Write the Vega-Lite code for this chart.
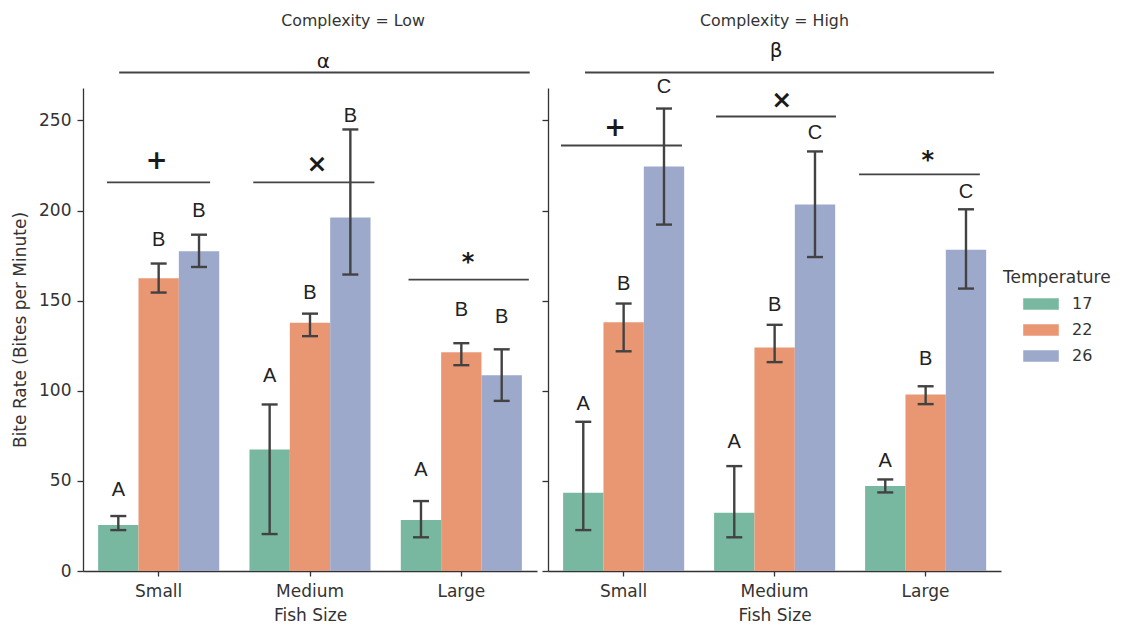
{
  "$schema": "https://vega.github.io/schema/vega-lite/v6.json",
  "background": "white",
  "padding": {"left": 11, "top": 12, "right": 5, "bottom": 5},
  "spacing": 4,
  "config": {
    "view": {"stroke": null},
    "font": "DejaVu Sans",
    "axis": {
      "domainColor": "#333333", "domainWidth": 1.3, "tickColor": "#333333", "tickWidth": 1.3,
      "labelColor": "#333333", "titleColor": "#333333", "labelFont": "DejaVu Sans", "titleFont": "DejaVu Sans",
      "labelFontSize": 17, "titleFontSize": 17, "titleFontWeight": "normal", "grid": false
    },
    "legend": {
      "titleFont": "DejaVu Sans", "labelFont": "DejaVu Sans", "titleFontSize": 17, "labelFontSize": 16,
      "titleFontWeight": "normal", "titleColor": "#333333", "labelColor": "#333333"
    }
  },
  "datasets": {
    "bars": [
      {"Complexity": "Low", "Size": "Small", "Temperature": "17", "mean": 25.5, "lo": 22.7, "hi": 30.5, "letter": "A", "ly": 44.9},
      {"Complexity": "Low", "Size": "Small", "Temperature": "22", "mean": 162.4, "lo": 154.5, "hi": 170.6, "letter": "B", "ly": 183.5},
      {"Complexity": "Low", "Size": "Small", "Temperature": "26", "mean": 177.4, "lo": 168.7, "hi": 186.6, "letter": "B", "ly": 199.6},
      {"Complexity": "Low", "Size": "Medium", "Temperature": "17", "mean": 67.4, "lo": 20.5, "hi": 92.4, "letter": "A", "ly": 108.1},
      {"Complexity": "Low", "Size": "Medium", "Temperature": "22", "mean": 137.8, "lo": 130.3, "hi": 142.8, "letter": "B", "ly": 154.1},
      {"Complexity": "Low", "Size": "Medium", "Temperature": "26", "mean": 196.1, "lo": 164.5, "hi": 245.0, "letter": "B", "ly": 252.2},
      {"Complexity": "Low", "Size": "Large", "Temperature": "17", "mean": 28.3, "lo": 18.7, "hi": 38.8, "letter": "A", "ly": 56.0},
      {"Complexity": "Low", "Size": "Large", "Temperature": "22", "mean": 121.4, "lo": 114.2, "hi": 126.4, "letter": "B", "ly": 144.7},
      {"Complexity": "Low", "Size": "Large", "Temperature": "26", "mean": 108.6, "lo": 94.4, "hi": 123.0, "letter": "B", "ly": 141.0},
      {"Complexity": "High", "Size": "Small", "Temperature": "17", "mean": 43.4, "lo": 22.7, "hi": 82.8, "letter": "A", "ly": 92.6},
      {"Complexity": "High", "Size": "Small", "Temperature": "22", "mean": 138.0, "lo": 121.9, "hi": 148.4, "letter": "B", "ly": 159.1},
      {"Complexity": "High", "Size": "Small", "Temperature": "26", "mean": 224.5, "lo": 192.2, "hi": 256.6, "letter": "C", "ly": 268.3},
      {"Complexity": "High", "Size": "Medium", "Temperature": "17", "mean": 32.3, "lo": 18.7, "hi": 58.2, "letter": "A", "ly": 71.7},
      {"Complexity": "High", "Size": "Medium", "Temperature": "22", "mean": 124.0, "lo": 115.9, "hi": 136.6, "letter": "B", "ly": 147.8},
      {"Complexity": "High", "Size": "Medium", "Temperature": "26", "mean": 203.3, "lo": 174.2, "hi": 232.8, "letter": "C", "ly": 242.8},
      {"Complexity": "High", "Size": "Large", "Temperature": "17", "mean": 47.1, "lo": 43.6, "hi": 50.8, "letter": "A", "ly": 61.0},
      {"Complexity": "High", "Size": "Large", "Temperature": "22", "mean": 98.0, "lo": 92.6, "hi": 102.5, "letter": "B", "ly": 117.5},
      {"Complexity": "High", "Size": "Large", "Temperature": "26", "mean": 178.3, "lo": 156.7, "hi": 200.7, "letter": "C", "ly": 210.3}
    ],
    "lines": [
      {"Complexity": "Low", "x1": -0.261, "x2": 2.452, "y": 276.6},
      {"Complexity": "Low", "x1": -0.342, "x2": 0.340, "y": 215.6},
      {"Complexity": "Low", "x1": 0.625, "x2": 1.426, "y": 215.6},
      {"Complexity": "Low", "x1": 1.651, "x2": 2.446, "y": 161.7},
      {"Complexity": "High", "x1": -0.255, "x2": 2.454, "y": 276.6},
      {"Complexity": "High", "x1": -0.414, "x2": 0.387, "y": 236.1},
      {"Complexity": "High", "x1": 0.613, "x2": 1.407, "y": 252.2},
      {"Complexity": "High", "x1": 1.56, "x2": 2.36, "y": 220.1}
    ],
    "syms": [
      {"Complexity": "Low", "x": -0.013, "y": 227.4, "sym": "+", "kind": "plus"},
      {"Complexity": "Low", "x": 1.046, "y": 226.0, "sym": "×", "kind": "times"},
      {"Complexity": "Low", "x": 2.045, "y": 170.8, "sym": "*", "kind": "star"},
      {"Complexity": "Low", "x": 1.088, "y": 282.2, "sym": "α", "kind": "greek"},
      {"Complexity": "High", "x": -0.056, "y": 245.6, "sym": "+", "kind": "plus"},
      {"Complexity": "High", "x": 1.048, "y": 261.1, "sym": "×", "kind": "times"},
      {"Complexity": "High", "x": 2.015, "y": 227.6, "sym": "*", "kind": "star"},
      {"Complexity": "High", "x": 1.01, "y": 288.8, "sym": "β", "kind": "greek"}
    ]
  },
  "hconcat": [
    {
      "title": {"text": "Complexity = Low", "fontSize": 15.8, "fontWeight": "normal", "color": "#333333", "font": "DejaVu Sans", "dx": 43, "offset": 23},
      "width": 454, "height": 483,
      "resolve": {"scale": {"x": "independent"}},
      "layer": [
        {
          "data": {"name": "bars"},
          "transform": [{"filter": "datum.Complexity === 'Low'"}],
          "encoding": {
            "x": {"field": "Size", "type": "nominal", "sort": ["Small", "Medium", "Large"], "scale": {"paddingInner": 0.2, "paddingOuter": 0.1}, "title": "Fish Size",
              "axis": {"labelAngle": 0, "tickSize": 5, "labelPadding": 7, "titlePadding": 8}},
            "xOffset": {"field": "Temperature", "type": "nominal", "sort": ["17", "22", "26"], "scale": {"paddingInner": 0, "paddingOuter": 0}}
          },
          "layer": [
            {
              "mark": {"type": "bar"},
              "encoding": {
                "y": {"field": "mean", "type": "quantitative", "scale": {"domain": [0, 268], "nice": false}, "title": "Bite Rate (Bites per Minute)",
                  "axis": {"values": [0, 50, 100, 150, 200, 250], "tickSize": 6, "labelPadding": 6, "titlePadding": 9}},
                "color": {"field": "Temperature", "type": "nominal", "sort": ["17", "22", "26"],
                  "scale": {"domain": ["17", "22", "26"], "range": ["#79b8a0", "#e99773", "#9da9cb"]},
                  "legend": {"title": "Temperature", "orient": "none", "legendX": 920, "legendY": 182,
                    "symbolType": "M-1.52,-0.5H1.52V0.5H-1.52Z", "symbolSize": 548, "symbolStrokeWidth": 0, "symbolOpacity": 1,
                    "symbolOffset": 26, "labelOffset": 19, "rowPadding": 6, "titlePadding": 5, "titleAnchor": "start"}}
              }
            },
            {
              "mark": {"type": "rule", "color": "#424242", "strokeWidth": 2.4},
              "encoding": {
                "y": {"field": "lo", "type": "quantitative", "scale": {"domain": [0, 268], "nice": false}, "title": "Bite Rate (Bites per Minute)"},
                "y2": {"field": "hi"}
              }
            },
            {
              "mark": {"type": "tick", "color": "#424242", "thickness": 2.4, "size": 16, "opacity": 1},
              "encoding": {"y": {"field": "lo", "type": "quantitative", "scale": {"domain": [0, 268], "nice": false}, "title": "Bite Rate (Bites per Minute)"}}
            },
            {
              "mark": {"type": "tick", "color": "#424242", "thickness": 2.4, "size": 16, "opacity": 1},
              "encoding": {"y": {"field": "hi", "type": "quantitative", "scale": {"domain": [0, 268], "nice": false}, "title": "Bite Rate (Bites per Minute)"}}
            },
            {
              "mark": {"type": "text", "font": "Liberation Sans", "fontSize": 20, "color": "#222222", "baseline": "middle", "align": "center"},
              "encoding": {
                "y": {"field": "ly", "type": "quantitative", "scale": {"domain": [0, 268], "nice": false}, "title": "Bite Rate (Bites per Minute)"},
                "text": {"field": "letter"}
              }
            }
          ]
        },
        {
          "data": {"name": "lines"},
          "transform": [{"filter": "datum.Complexity === 'Low'"}],
          "mark": {"type": "rule", "color": "#444444", "strokeWidth": 1.8},
          "encoding": {
            "x": {"field": "x1", "type": "quantitative", "scale": {"domain": [-0.5, 2.5], "nice": false, "zero": false}, "axis": null},
            "x2": {"field": "x2"},
            "y": {"field": "y", "type": "quantitative", "scale": {"domain": [0, 268], "nice": false}, "title": "Bite Rate (Bites per Minute)"}
          }
        },
        {
          "data": {"name": "syms"},
          "transform": [{"filter": "datum.Complexity === 'Low' && datum.kind !== 'greek'"}],
          "mark": {"type": "text", "baseline": "middle", "align": "center", "color": "#1a1a1a", "font": "DejaVu Sans", "fontWeight": "bold"},
          "encoding": {
            "x": {"field": "x", "type": "quantitative", "scale": {"domain": [-0.5, 2.5], "nice": false, "zero": false}, "axis": null},
            "y": {"field": "y", "type": "quantitative", "scale": {"domain": [0, 268], "nice": false}, "title": "Bite Rate (Bites per Minute)"},
            "text": {"field": "sym"},
            "size": {"field": "kind", "type": "nominal", "scale": {"domain": ["plus", "times", "star"], "range": [26, 24, 24]}, "legend": null}
          }
        },
        {
          "data": {"name": "syms"},
          "transform": [{"filter": "datum.Complexity === 'Low' && datum.kind === 'greek'"}],
          "mark": {"type": "text", "baseline": "middle", "align": "center", "color": "#1a1a1a", "font": "DejaVu Sans", "fontSize": 20},
          "encoding": {
            "x": {"field": "x", "type": "quantitative", "scale": {"domain": [-0.5, 2.5], "nice": false, "zero": false}, "axis": null},
            "y": {"field": "y", "type": "quantitative", "scale": {"domain": [0, 268], "nice": false}, "title": "Bite Rate (Bites per Minute)"},
            "text": {"field": "sym"}
          }
        }
      ]
    },
    {
      "title": {"text": "Complexity = High", "fontSize": 15.8, "fontWeight": "normal", "color": "#333333", "font": "DejaVu Sans", "dx": 0, "offset": 11},
      "width": 453, "height": 483,
      "resolve": {"scale": {"x": "independent"}},
      "layer": [
        {
          "data": {"name": "bars"},
          "transform": [{"filter": "datum.Complexity === 'High'"}],
          "encoding": {
            "x": {"field": "Size", "type": "nominal", "sort": ["Small", "Medium", "Large"], "scale": {"paddingInner": 0.2, "paddingOuter": 0.1}, "title": "Fish Size",
              "axis": {"labelAngle": 0, "tickSize": 5, "labelPadding": 7, "titlePadding": 8}},
            "xOffset": {"field": "Temperature", "type": "nominal", "sort": ["17", "22", "26"], "scale": {"paddingInner": 0, "paddingOuter": 0}}
          },
          "layer": [
            {
              "mark": {"type": "bar"},
              "encoding": {
                "y": {"field": "mean", "type": "quantitative", "scale": {"domain": [0, 268], "nice": false}, "title": null,
                  "axis": {"values": [0, 50, 100, 150, 200, 250], "tickSize": 6, "labels": false, "title": null}},
                "color": {"field": "Temperature", "type": "nominal", "sort": ["17", "22", "26"],
                  "scale": {"domain": ["17", "22", "26"], "range": ["#79b8a0", "#e99773", "#9da9cb"]}}
              }
            },
            {
              "mark": {"type": "rule", "color": "#424242", "strokeWidth": 2.4},
              "encoding": {
                "y": {"field": "lo", "type": "quantitative", "scale": {"domain": [0, 268], "nice": false}, "title": null},
                "y2": {"field": "hi"}
              }
            },
            {
              "mark": {"type": "tick", "color": "#424242", "thickness": 2.4, "size": 16, "opacity": 1},
              "encoding": {"y": {"field": "lo", "type": "quantitative", "scale": {"domain": [0, 268], "nice": false}, "title": null}}
            },
            {
              "mark": {"type": "tick", "color": "#424242", "thickness": 2.4, "size": 16, "opacity": 1},
              "encoding": {"y": {"field": "hi", "type": "quantitative", "scale": {"domain": [0, 268], "nice": false}, "title": null}}
            },
            {
              "mark": {"type": "text", "font": "Liberation Sans", "fontSize": 20, "color": "#222222", "baseline": "middle", "align": "center"},
              "encoding": {
                "y": {"field": "ly", "type": "quantitative", "scale": {"domain": [0, 268], "nice": false}, "title": null},
                "text": {"field": "letter"}
              }
            }
          ]
        },
        {
          "data": {"name": "lines"},
          "transform": [{"filter": "datum.Complexity === 'High'"}],
          "mark": {"type": "rule", "color": "#444444", "strokeWidth": 1.8},
          "encoding": {
            "x": {"field": "x1", "type": "quantitative", "scale": {"domain": [-0.5, 2.5], "nice": false, "zero": false}, "axis": null},
            "x2": {"field": "x2"},
            "y": {"field": "y", "type": "quantitative", "scale": {"domain": [0, 268], "nice": false}, "title": null}
          }
        },
        {
          "data": {"name": "syms"},
          "transform": [{"filter": "datum.Complexity === 'High' && datum.kind !== 'greek'"}],
          "mark": {"type": "text", "baseline": "middle", "align": "center", "color": "#1a1a1a", "font": "DejaVu Sans", "fontWeight": "bold"},
          "encoding": {
            "x": {"field": "x", "type": "quantitative", "scale": {"domain": [-0.5, 2.5], "nice": false, "zero": false}, "axis": null},
            "y": {"field": "y", "type": "quantitative", "scale": {"domain": [0, 268], "nice": false}, "title": null},
            "text": {"field": "sym"},
            "size": {"field": "kind", "type": "nominal", "scale": {"domain": ["plus", "times", "star"], "range": [26, 24, 24]}, "legend": null}
          }
        },
        {
          "data": {"name": "syms"},
          "transform": [{"filter": "datum.Complexity === 'High' && datum.kind === 'greek'"}],
          "mark": {"type": "text", "baseline": "middle", "align": "center", "color": "#1a1a1a", "font": "DejaVu Sans", "fontSize": 20},
          "encoding": {
            "x": {"field": "x", "type": "quantitative", "scale": {"domain": [-0.5, 2.5], "nice": false, "zero": false}, "axis": null},
            "y": {"field": "y", "type": "quantitative", "scale": {"domain": [0, 268], "nice": false}, "title": null},
            "text": {"field": "sym"}
          }
        }
      ]
    }
  ]
}
